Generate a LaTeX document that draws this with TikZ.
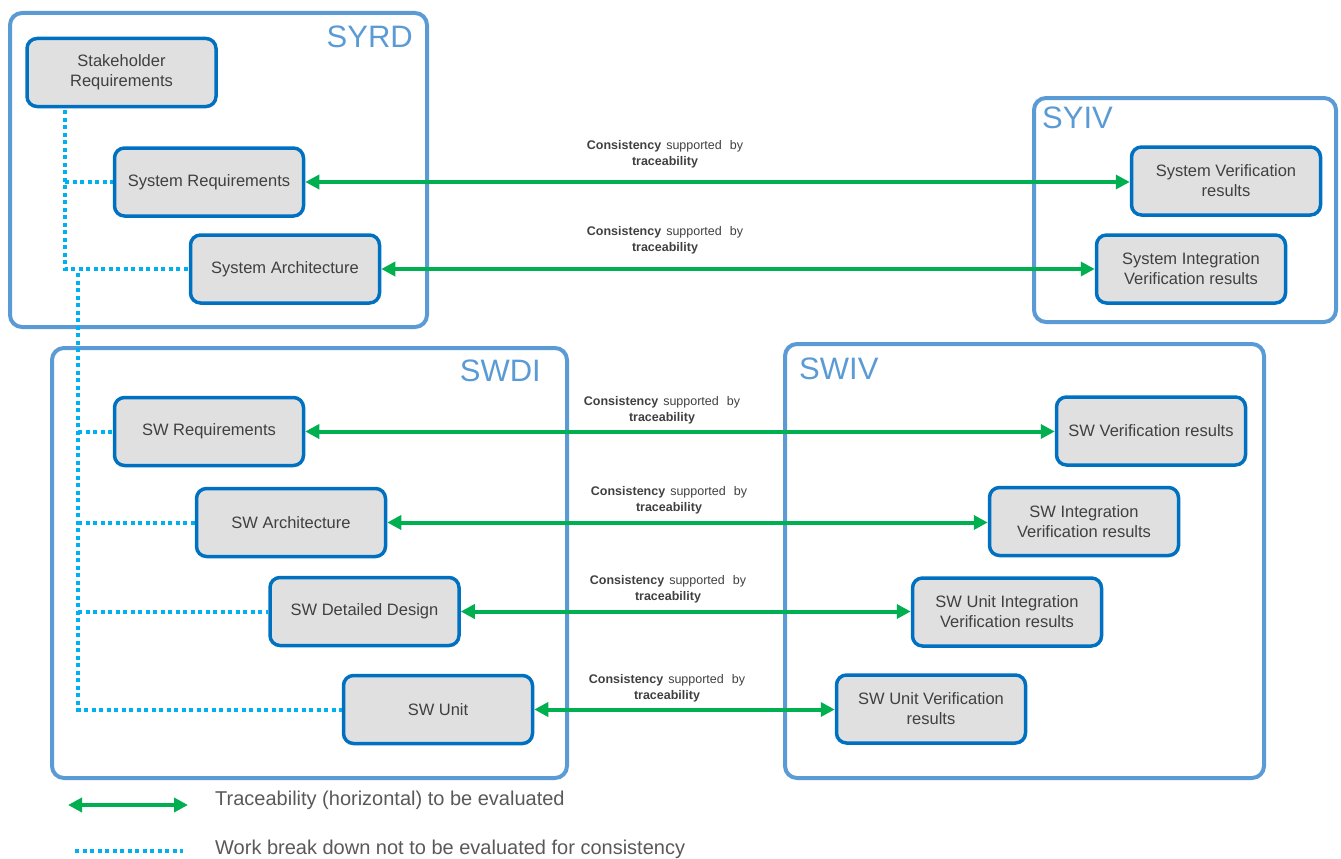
\documentclass[tikz,border=0pt]{standalone}
\usepackage{fontspec}
\setmainfont{Liberation Sans}
\usetikzlibrary{arrows.meta}
\pgfdeclarelayer{background}
\pgfsetlayers{background,main}
\definecolor{cont}{HTML}{5B9BD5}
\definecolor{nodeb}{HTML}{0070C0}
\definecolor{nodef}{HTML}{E0E0E0}
\definecolor{grn}{HTML}{00B050}
\definecolor{dotc}{HTML}{00B0F0}
\definecolor{txt}{HTML}{404040}
\definecolor{legt}{HTML}{595959}
\tikzset{
 container/.style={draw=cont, line width=4pt, rounded corners=12pt},
 item/.style={draw=nodeb, fill=nodef, line width=3.5pt, rounded corners=10pt, minimum width=189pt, minimum height=68pt, inner sep=0pt, align=center, text=txt, font=\fontsize{16.5}{20}\selectfont},
 grp/.style={text=cont, font=\fontsize{31}{36}\selectfont, inner sep=0pt},
 trace/.style={draw=grn, line width=4pt, {Triangle[length=14pt,width=14pt]}-{Triangle[length=14pt,width=14pt]}},
 wbs/.style={draw=dotc, line width=4pt, dash pattern=on 4pt off 3.5pt},
 cons/.style={text=txt, align=center, font=\fontsize{12.5}{16}\selectfont, inner sep=0pt},
 legend/.style={text=legt, anchor=west, font=\fontsize{20}{24}\selectfont, inner sep=0pt},
}
\newcommand{\conslabel}{\textbf{Consistency}\hspace{5pt}supported\hspace{8pt}by\\\textbf{traceability}}
\begin{document}
\begin{tikzpicture}[x=1pt,y=-1pt]
\useasboundingbox (0,0) rectangle (1341,859);
% container labels
\node[grp, anchor=east] (syrd) at (413,37) {SYRD};
\node[grp, anchor=west] (syiv) at (1042,118) {SYIV};
\node[grp, anchor=east] (swdi) at (541,371) {SWDI};
\node[grp, anchor=west] (swiv) at (799,369) {SWIV};
% nodes
\node[item] (stk) at (121.5,72.5) {Stakeholder\\Requirements};
\node[item] (sysreq) at (209,182) {System Requirements};
\node[item] (sysarch) at (285,269) {System Architecture};
\node[item] (swreq) at (209,431.5) {SW Requirements};
\node[item] (swarch) at (291,522.5) {SW Architecture};
\node[item] (swdd) at (364.5,611.5) {SW Detailed Design};
\node[item] (swunit) at (438,709.5) {SW Unit};
\node[item] (sysver) at (1226,181) {System Verification\\results};
\node[item] (sysint) at (1191,269) {System Integration\\Verification results};
\node[item] (swver) at (1151,431) {SW Verification results};
\node[item] (swint) at (1084,521.5) {SW Integration\\Verification results};
\node[item] (swuint) at (1007,612) {SW Unit Integration\\Verification results};
\node[item] (swuver) at (931,709) {SW Unit Verification\\results};
% containers and work breakdown dotted lines, behind the nodes
\begin{pgfonlayer}{background}
\draw[container] (10,13) rectangle (427,327);
\draw[container] (1034,98) rectangle (1336,322);
\draw[container] (52,348) rectangle (567,778);
\draw[container] (785,344) rectangle (1264,778);
\coordinate (d1top) at (65,110);
\coordinate (d2top) at (78,273);
\draw[wbs] (d1top) |- (sysarch.west);
\draw[wbs] (d1top |- sysreq.west) -- (sysreq.west);
\draw[wbs] (d2top) |- (swunit.west);
\draw[wbs] (d2top |- swreq.west) -- (swreq.west);
\draw[wbs] (d2top |- swarch.west) -- (swarch.west);
\draw[wbs] (d2top |- swdd.west) -- (swdd.west);
\end{pgfonlayer}
% traceability arrows
\draw[trace] (sysreq.east) -- (sysreq.east -| sysver.west);
\draw[trace] (sysarch.east) -- (sysarch.east -| sysint.west);
\draw[trace] (swreq.east) -- (swreq.east -| swver.west);
\draw[trace] (swarch.east) -- (swarch.east -| swint.west);
\draw[trace] (swdd.east) -- (swdd.east -| swuint.west);
\draw[trace] (swunit.east) -- (swunit.east -| swuver.west);
% labels
\node[cons] (c1) at (665,154) {\conslabel};
\node[cons] (c2) at (665,240) {\conslabel};
\node[cons] (c3) at (662,410) {\conslabel};
\node[cons] (c4) at (669,500) {\conslabel};
\node[cons] (c5) at (668,589) {\conslabel};
\node[cons] (c6) at (667,688) {\conslabel};
% legend
\coordinate (l1a) at (68,805);
\coordinate (l1b) at (188,805);
\draw[trace] (l1a) -- (l1b);
\node[legend] (lt1) at (215,800) {Traceability (horizontal) to be evaluated};
\coordinate (l2a) at (75,851);
\coordinate (l2b) at (183,851);
\draw[wbs] (l2a) -- (l2b);
\node[legend] (lt2) at (215,849) {Work break down not to be evaluated for consistency};
\end{tikzpicture}
\end{document}
